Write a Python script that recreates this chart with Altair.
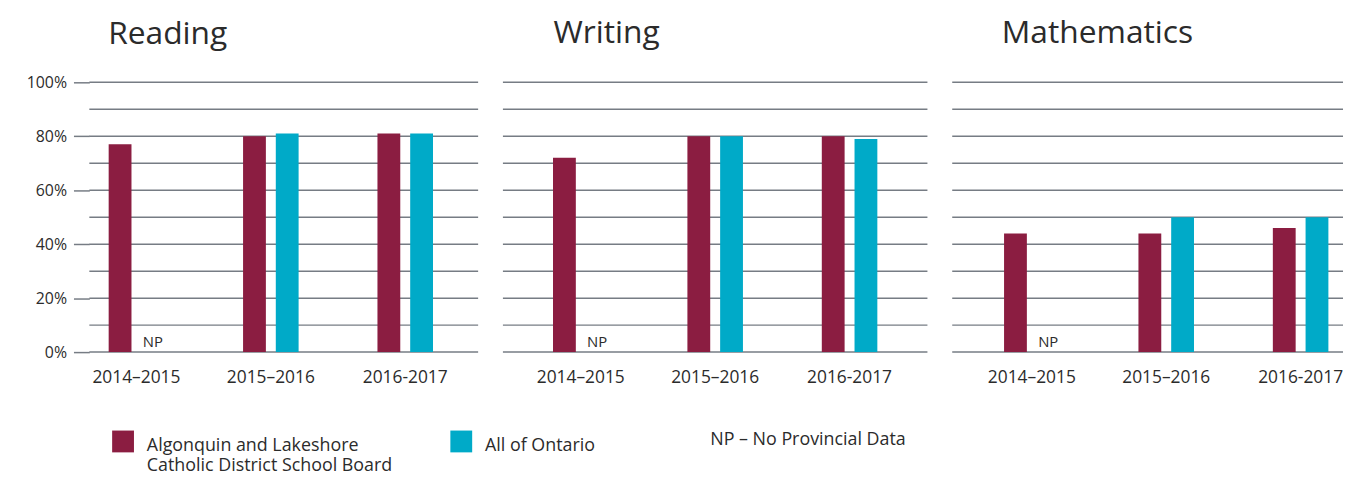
import altair as alt
import pandas as pd

# ---- data ----
subjects = ["Reading", "Writing", "Mathematics"]
years = ["2014–2015", "2015–2016", "2016-2017"]
series = ["Algonquin and Lakeshore Catholic District School Board", "All of Ontario"]
legend_lines = ["Algonquin and Lakeshore", "Catholic District School Board"]
board_reading = [77, 80, 81]
ontario_reading = [None, 81, 81]
board_writing = [72, 80, 80]
ontario_writing = [None, 80, 79]
board_math = [44, 44, 46]
ontario_math = [None, 50, 50]
grid_values = [0, 10, 20, 30, 40, 50, 60, 70, 80, 90, 100]
axis_values = [0, 20, 40, 60, 80, 100]
np_label = "NP"
np_note = "NP – No Provincial Data"

# ---- styles ----
FONT = "Open Sans"
TEXT = "#2b2b2b"
GRID = "#767c84"
COLORS = ["#8b1d41", "#00aac8"]

yscale = alt.Scale(domain=[0, 100], nice=False, zero=True)
xoff_scale = alt.Scale(domain=series, paddingInner=0.303, paddingOuter=0)
color_scale = alt.Scale(domain=series, range=COLORS)

label_expr = (
    "datum.label == '" + series[0] + "' ? ['" + legend_lines[0] + "', '" + legend_lines[1]
    + "'] : [datum.label, ' ']"
)

legend = alt.Legend(
    orient="none",
    legendX=23,
    legendY=361,
    direction="horizontal",
    title=np_note,
    titleOrient="right",
    titleAnchor="start",
    titleLimit=400,
    titleFont=FONT,
    titleFontSize=18,
    titleFontWeight="normal",
    titleColor=TEXT,
    titlePadding=116,
    titleBaseline="middle",
    labelFont=FONT,
    labelFontSize=18,
    labelColor=TEXT,
    labelLimit=400,
    labelOffset=13,
    labelBaseline="alphabetic",
    labelExpr=label_expr,
    symbolType="M-1,-1.9H1V0.1H-1Z",
    symbolSize=484,
    symbolStrokeWidth=0,
    symbolOpacity=1,
    columnPadding=58,
    padding=0,
)


def panel(subject, board_vals, ont_vals, width, align, first, title_dx, title_offset):
    df = pd.DataFrame({
        "year": years + years,
        "series": [series[0]] * 3 + [series[1]] * 3,
        "value": board_vals + ont_vals,
    })
    grid_df = pd.DataFrame({"g": grid_values})
    step_pad_outer = (width / 135.5 - (3 - 0.5867)) / 2
    xscale = alt.Scale(domain=years, paddingInner=0.5867, paddingOuter=step_pad_outer,
                       align=align, round=False)
    if first:
        yaxis = alt.Axis(values=axis_values, labelExpr="datum.value + '%'", tickSize=16,
                         tickColor=GRID, tickWidth=1.5, domain=False, grid=False,
                         labelPadding=7, labelFontSize=16, labelFont=FONT,
                         labelColor=TEXT, title=None)
    else:
        yaxis = None
    xaxis = alt.Axis(labelAngle=0, ticks=False, domain=False, grid=False,
                     labelFontSize=17.5, labelFont=FONT, labelColor=TEXT,
                     labelPadding=17, title=None)

    grid = alt.Chart(grid_df).mark_rule(color=GRID, strokeWidth=1.5).encode(
        y=alt.Y("g:Q", scale=yscale, axis=yaxis)
    )
    bars = alt.Chart(df).transform_filter("isValid(datum.value)").mark_bar().encode(
        x=alt.X("year:N", scale=xscale, sort=years, axis=xaxis),
        xOffset=alt.XOffset("series:N", scale=xoff_scale, sort=series),
        y=alt.Y("value:Q", scale=yscale, axis=yaxis),
        color=alt.Color("series:N", scale=color_scale, legend=legend),
    )
    np_text = alt.Chart(df).transform_filter("!isValid(datum.value)").transform_calculate(
        zero="0"
    ).mark_text(
        text=np_label, font=FONT, fontSize=15, color=TEXT, align="center",
        baseline="alphabetic", dy=-5
    ).encode(
        x=alt.X("year:N", scale=xscale, sort=years, axis=xaxis),
        xOffset=alt.XOffset("series:N", scale=xoff_scale, sort=series),
        y=alt.Y("zero:Q", scale=yscale, axis=yaxis),
    )
    return alt.layer(grid, bars, np_text).properties(
        width=width, height=272,
        title=alt.TitleParams(subject, anchor="start", frame="group", fontSize=32,
                              font=FONT, fontWeight="normal", color=TEXT,
                              dx=title_dx, offset=title_offset),
    )


p1 = panel(subjects[0], board_reading, ontario_reading, 392, 0.30, True, 19, 24)
p2 = panel(subjects[1], board_writing, ontario_writing, 428, 0.50, False, 51, 32)
p3 = panel(subjects[2], board_math, ontario_math, 394, 0.78, False, 50, 32)

chart = alt.hconcat(p1, p2, p3, spacing=23).properties(
    padding={"left": 18, "top": 7, "right": 0, "bottom": 0}
).configure(font=FONT).configure_view(stroke=None)

chart.save("out.html", embed_options={"renderer": "svg", "actions": False})
